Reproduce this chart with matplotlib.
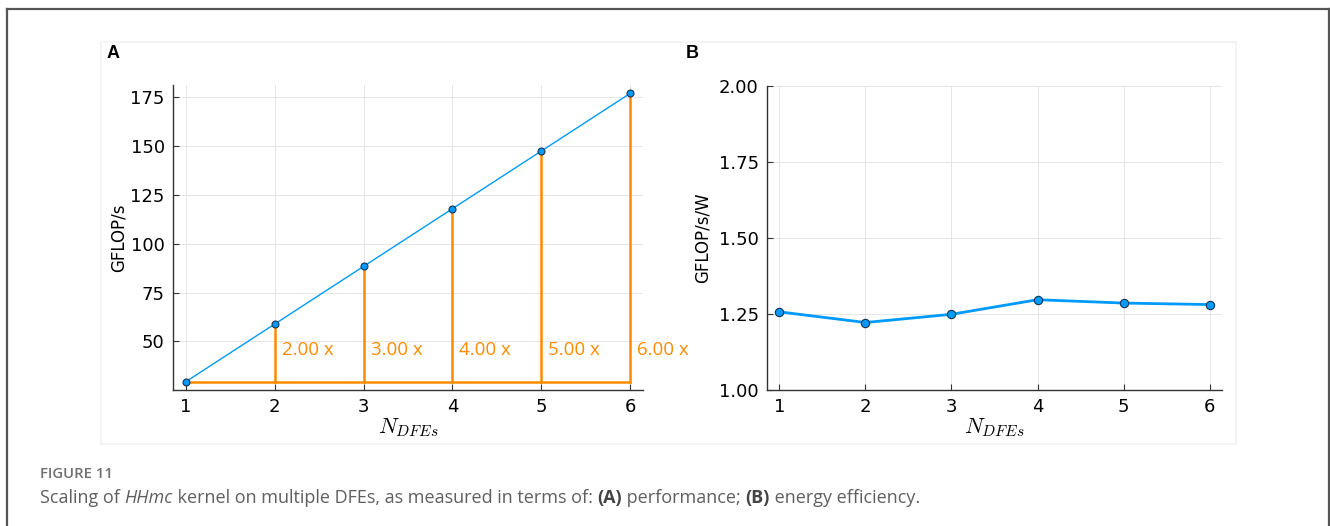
import matplotlib
matplotlib.use("Agg")
import matplotlib.pyplot as plt
from matplotlib.patches import Rectangle
from matplotlib.lines import Line2D

plt.rcParams['font.family'] = ['DejaVu Sans']
plt.rcParams['mathtext.fontset'] = 'cm'

# data
n_dfes = [1, 2, 3, 4, 5, 6]
gflops = [29.45, 58.9, 88.35, 117.8, 147.25, 176.7]
speedup_labels = ['2.00 x', '3.00 x', '4.00 x', '5.00 x', '6.00 x']
gflops_per_w = [1.257, 1.222, 1.249, 1.297, 1.286, 1.281]

blue = '#009AFA'
orange = '#FF8C00'
W, H = 1330, 526

fig = plt.figure(figsize=(W / 100, H / 100), dpi=100)

# outer frame + faint inner panel box
fig.add_artist(Line2D([7 / W, 1329 / W], [1 - 9 / H, 1 - 9 / H], color='#555555', lw=1.6))
fig.add_artist(Line2D([7 / W, 7 / W], [0, 1 - 9 / H], color='#555555', lw=1.6))
fig.add_artist(Line2D([1329 / W, 1329 / W], [0, 1 - 9 / H], color='#555555', lw=1.6))
fig.add_artist(Rectangle((101 / W, 1 - 444 / H), 1135 / W, 402 / H, fill=False,
                         edgecolor='#f2f2f2', lw=1.2))


def style_axes(ax):
    for s in ['top', 'right']:
        ax.spines[s].set_visible(False)
    for s in ['left', 'bottom']:
        ax.spines[s].set_color('#333333')
        ax.spines[s].set_linewidth(1.0)
    ax.tick_params(direction='in', length=4, width=0.8, color='#333333',
                   labelsize=13, pad=6)
    ax.grid(True, color='#e6e6e6', lw=0.7)
    ax.set_axisbelow(True)
    ax.set_xlim(0.855, 6.145)
    ax.set_xticks(n_dfes)
    ax.set_xlabel(r'$N_{DFEs}$', fontsize=16, labelpad=0)


# ========== A: performance ==========
axA = fig.add_axes([173 / W, 1 - 390 / H, 470 / W, 305 / H])
style_axes(axA)
axA.set_ylim(25.2, 181)
axA.set_yticks([50, 75, 100, 125, 150, 175])
axA.plot(n_dfes, gflops, color=blue, lw=1.0, zorder=3)
axA.plot(n_dfes, gflops, 'o', ms=5, mfc=blue, mec='#1a3550', mew=0.8, zorder=4)
base = gflops[0]
axA.plot([n_dfes[0], n_dfes[-1]], [base, base], color=orange, lw=1.8, zorder=2)
for x, y, lab in zip(n_dfes[1:], gflops[1:], speedup_labels):
    axA.plot([x, x], [base, y], color=orange, lw=1.8, zorder=2)
    axA.annotate(lab, (x, 45.5), xytext=(5, 0), textcoords='offset points',
                 color=orange, fontsize=13.5, va='center', ha='left',
                 family=['Open Sans', 'DejaVu Sans'])
axA.set_ylabel('GFLOP/s', fontsize=12, labelpad=2)
fig.text(107 / W, 1 - 54 / H, 'A', fontsize=13, fontweight='bold', va='center',
         family=['Liberation Sans', 'DejaVu Sans'])

# ========== B: energy efficiency ==========
axB = fig.add_axes([767 / W, 1 - 390 / H, 455 / W, 304 / H])
style_axes(axB)
axB.set_ylim(1.0, 2.0)
axB.set_yticks([1.0, 1.25, 1.5, 1.75, 2.0])
axB.set_yticklabels(['1.00', '1.25', '1.50', '1.75', '2.00'])
axB.plot(n_dfes, gflops_per_w, color=blue, lw=2.0, zorder=3)
axB.plot(n_dfes, gflops_per_w, 'o', ms=6, mfc=blue, mec='#1a3550', mew=0.8, zorder=4)
axB.set_ylabel('GFLOP/s/W', fontsize=12, labelpad=5)
fig.text(686 / W, 1 - 54 / H, 'B', fontsize=13, fontweight='bold', va='center',
         family=['Liberation Sans', 'DejaVu Sans'])

# ========== caption ==========
cap_font = ['Open Sans', 'DejaVu Sans']
fig.text(40 / W, 1 - 474 / H, 'FIGURE 11', fontsize=10.7, color='#707070',
         va='center', fontweight='semibold', family=cap_font)

pieces = [('Scaling of ', 'normal', 'normal', '#5f5f5f'),
          ('HHmc', 'normal', 'italic', '#5f5f5f'),
          (' kernel on multiple DFEs, as measured in terms of: ', 'normal', 'normal', '#5f5f5f'),
          ('(A)', 'bold', 'normal', '#444444'),
          (' performance; ', 'normal', 'normal', '#5f5f5f'),
          ('(B)', 'bold', 'normal', '#444444'),
          (' energy efficiency.', 'normal', 'normal', '#5f5f5f')]
renderer = fig.canvas.get_renderer()
x = 40
for txt, weight, style, col in pieces:
    t = fig.text(x / W, 1 - 498 / H, txt, fontsize=13.0, color=col,
                 va='center', fontweight=weight, fontstyle=style, family=cap_font)
    bb = t.get_window_extent(renderer)
    x += bb.width

fig.savefig('out.png', dpi=100)
